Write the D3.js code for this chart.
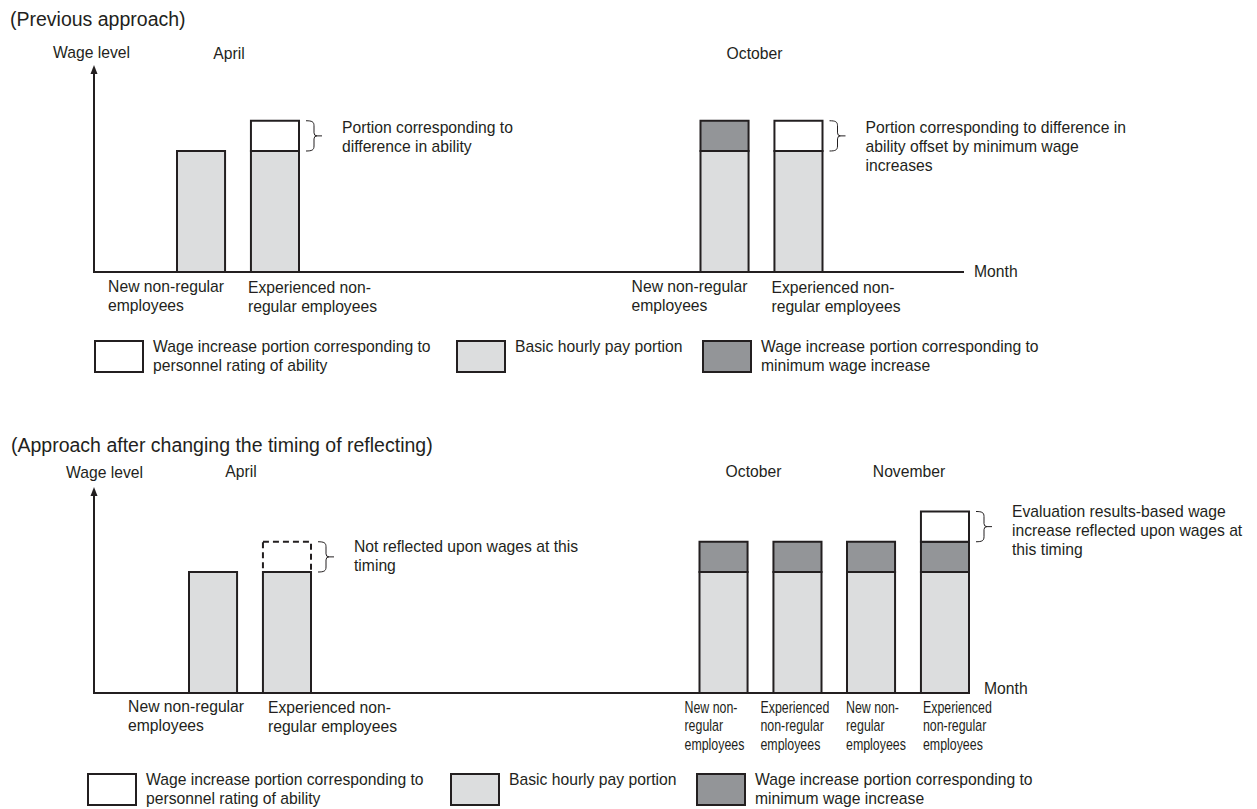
<!DOCTYPE html>
<html lang="en">
<head>
<meta charset="UTF-8">
<script src="https://cdn.jsdelivr.net/npm/d3@7"></script>
<style>
  body { margin: 0; background: #fff; }
  svg text { font-family: "Liberation Sans", Arial, sans-serif; fill: #231f20; font-size: 15.7px; }
</style>
</head>
<body>
<svg id="chart" width="1257" height="809"></svg>
<script>
// ---------- data ----------
const seriesKeys = ["basic", "minimum", "ability", "pending"];
const legendKeys = ["ability", "basic", "minimum"];
const legendLabels = [
  ["Wage increase portion corresponding to", "personnel rating of ability"],
  ["Basic hourly pay portion"],
  ["Wage increase portion corresponding to", "minimum wage increase"]
];
const wideLabels = { new: ["New non-regular", "employees"], exp: ["Experienced non-", "regular employees"] };
const narrowLabels = { new: ["New non-", "regular", "employees"], exp: ["Experienced", "non-regular", "employees"] };

// panel 1: previous approach
const prevMonths = ["April", "April", "October", "October"];
const prevTypes = ["new", "exp", "new", "exp"];
const prevBasic = [4, 4, 4, 4];
const prevMinimum = [0, 0, 1, 0];
const prevAbility = [0, 1, 0, 1];
const prevPending = [0, 0, 0, 0];
const prevNotes = [
  { bar: 1, key: "ability", lines: ["Portion corresponding to", "difference in ability"] },
  { bar: 3, key: "ability", lines: ["Portion corresponding to difference in", "ability offset by minimum wage", "increases"] }
];

// panel 2: after changing the timing
const afterMonths = ["April", "April", "October", "October", "November", "November"];
const afterTypes = ["new", "exp", "new", "exp", "new", "exp"];
const afterBasic = [4, 4, 4, 4, 4, 4];
const afterMinimum = [0, 0, 1, 1, 1, 1];
const afterAbility = [0, 0, 0, 0, 0, 1];
const afterPending = [0, 1, 0, 0, 0, 0];
const afterNotes = [
  { bar: 1, key: "pending", lines: ["Not reflected upon wages at this", "timing"] },
  { bar: 5, key: "ability", lines: ["Evaluation results-based wage", "increase reflected upon wages at", "this timing"] }
];

// ---------- layout ----------
const fills = { basic: "#dcddde", minimum: "#939598", ability: "#ffffff", pending: "none" };
const ink = "#231f20";

const panels = [
  {
    title: "(Previous approach)", titleX: 10, titleY: 26,
    wageX: 53, wageY: 58, axisX: 94, arrowTop: 65, axisY: 272, axisEnd: 964,
    monthX: 974, monthY: 277, monthLabelY: 59,
    centers: { April: 238, October: 761.5 },
    catY: 292, newDx: -1, expDx: -3, narrowFrom: 99, narrowDx: [],
    legendY: 341, legendX: [95, 457, 703],
    noteDy: [12, 12], noteLh: 19,
    rows: prevMonths.map((m, i) => ({ month: m, type: prevTypes[i], basic: prevBasic[i], minimum: prevMinimum[i], ability: prevAbility[i], pending: prevPending[i] })),
    notes: prevNotes
  },
  {
    title: "(Approach after changing the timing of reflecting)", titleX: 11, titleY: 452,
    wageX: 66, wageY: 478, axisX: 94, arrowTop: 487, axisY: 693, axisEnd: 969,
    monthX: 984, monthY: 694, monthLabelY: 477,
    centers: { April: 250, October: 760.5, November: 908 },
    catY: 712, newDx: 7, expDx: 5, narrowFrom: 2, narrowDx: [-15, -13, -1, 2],
    legendY: 774, legendX: [88, 451, 697],
    noteDy: [10, 5], noteLh: 19,
    rows: afterMonths.map((m, i) => ({ month: m, type: afterTypes[i], basic: afterBasic[i], minimum: afterMinimum[i], ability: afterAbility[i], pending: afterPending[i] })),
    notes: afterNotes
  }
];
const monthDx = { April: -9, October: -7, November: 1 };

const svg = d3.select("#chart");

function multiline(sel, x, y, lines, lh) {
  const t = sel.append("text").attr("x", x).attr("y", y);
  lines.forEach((l, i) => t.append("tspan").attr("x", x).attr("dy", i === 0 ? 0 : lh).text(l));
  return t;
}

function bracePath(x0, y0, y1) {
  const ym = (y0 + y1) / 2;
  return `M${x0},${y0} C${x0 + 6},${y0} ${x0 + 8},${y0 + 1} ${x0 + 8},${y0 + 5}` +
    ` L${x0 + 8},${ym - 3} Q${x0 + 8},${ym} ${x0 + 11},${ym} L${x0 + 16},${ym}` +
    ` M${x0 + 11},${ym} Q${x0 + 8},${ym} ${x0 + 8},${ym + 3}` +
    ` L${x0 + 8},${y1 - 5} C${x0 + 8},${y1 - 1} ${x0 + 6},${y1} ${x0},${y1}`;
}

panels.forEach(p => {
  const g = svg.append("g");

  const y = d3.scaleLinear().domain([0, 4]).range([p.axisY, p.axisY - 121]);
  const inner = month => d3.scaleBand().domain(["new", "exp"])
    .range([p.centers[month] - 61, p.centers[month] + 61]).paddingInner(0.35);
  const barX = d => inner(d.month)(d.type);
  const bw = inner("April").bandwidth();

  // titles
  g.append("text").attr("x", p.titleX).attr("y", p.titleY).style("font-size", "19.5px").text(p.title);
  g.append("text").attr("x", p.wageX).attr("y", p.wageY).text("Wage level");
  Object.keys(p.centers).forEach(m => {
    g.append("text").attr("x", p.centers[m] + monthDx[m]).attr("y", p.monthLabelY)
      .attr("text-anchor", "middle").text(m);
  });

  // stacked bars
  const stacked = d3.stack().keys(seriesKeys)(p.rows);
  stacked.forEach(layer => {
    g.append("g").selectAll("rect")
      .data(layer.filter(d => d[1] - d[0] > 0))
      .join("rect")
      .attr("x", d => barX(d.data))
      .attr("width", bw)
      .attr("y", d => y(d[1]))
      .attr("height", d => y(d[0]) - y(d[1]))
      .attr("fill", fills[layer.key])
      .attr("stroke", ink)
      .attr("stroke-width", 2)
      .attr("stroke-dasharray", layer.key === "pending" ? "6,4" : null);
  });

  // axes
  g.append("line").attr("x1", p.axisX).attr("x2", p.axisX)
    .attr("y1", p.arrowTop + 6).attr("y2", y(0) + 1)
    .attr("stroke", ink).attr("stroke-width", 2);
  g.append("path")
    .attr("d", `M${p.axisX - 3.5},${p.arrowTop + 9} L${p.axisX},${p.arrowTop} L${p.axisX + 3.5},${p.arrowTop + 9} Z`)
    .attr("fill", ink);
  g.append("line").attr("x1", p.axisX - 1).attr("x2", p.axisEnd)
    .attr("y1", y(0)).attr("y2", y(0))
    .attr("stroke", ink).attr("stroke-width", 2);
  g.append("text").attr("x", p.monthX).attr("y", p.monthY).text("Month");

  // category labels (left aligned blocks)
  p.rows.forEach((d, i) => {
    const x0 = barX(d);
    if (i >= p.narrowFrom) {
      const k = i - p.narrowFrom;
      const t = g.append("g").attr("transform", `translate(${x0 + p.narrowDx[k]},${p.catY + 1}) scale(0.79,1)`);
      multiline(t, 0, 0, narrowLabels[d.type], 18.5);
    } else if (d.type === "new") {
      const t = multiline(g, 0, p.catY, wideLabels.new, 18.5);
      const w = t.node().getBBox().width;
      t.attr("transform", `translate(${x0 + bw + p.newDx - w},0)`);
    } else {
      multiline(g, x0 + p.expDx, p.catY + 1, wideLabels.exp, 18.5);
    }
  });

  // braces and notes
  p.notes.forEach((n, j) => {
    const layer = stacked.find(s => s.key === n.key);
    const seg = layer[n.bar];
    const right = barX(p.rows[n.bar]) + bw;
    const x0 = right + 7;
    g.append("path").attr("d", bracePath(x0, y(seg[1]), y(seg[0])))
      .attr("fill", "none").attr("stroke", ink).attr("stroke-width", 1);
    multiline(g, x0 + 36, y(seg[1]) + p.noteDy[j], n.lines, p.noteLh);
  });

  // legend
  legendKeys.forEach((k, i) => {
    const lx = p.legendX[i];
    g.append("rect").attr("x", lx).attr("y", p.legendY).attr("width", 48).attr("height", 31)
      .attr("fill", fills[k]).attr("stroke", ink).attr("stroke-width", 2);
    multiline(g, lx + 58, p.legendY + 11, legendLabels[i], 18.5);
  });
});
</script>
</body>
</html>
